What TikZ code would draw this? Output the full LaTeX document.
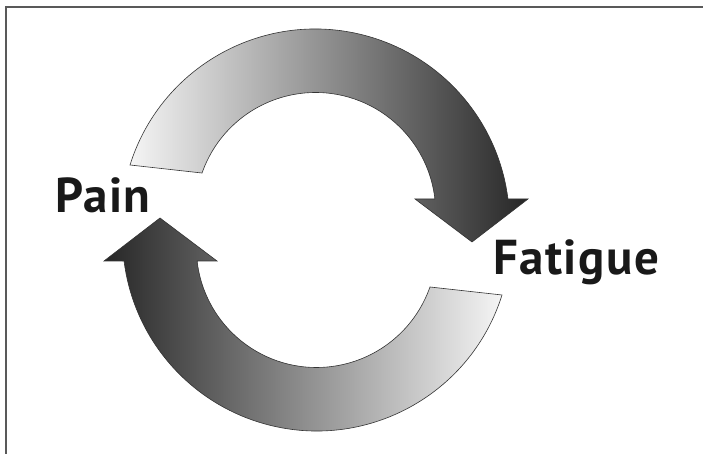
\documentclass[tikz,border=0pt]{standalone}
\usepackage{fontspec}
\setmainfont{PT Sans}

\begin{document}
\begin{tikzpicture}[x=1pt, y=1pt,
    loopband/.style={draw=black!80, line width=0.6pt},
    word/.style={anchor=base west, inner sep=0pt, text=black!90, font=\fontsize{49}{52}\selectfont\bfseries\addfontfeature{LetterSpace=3}}]

			\useasboundingbox (0,0) rectangle (703,454);
			\draw[black!65, line width=2pt] (6,0) -- (6,447) -- (703,447);

			\begin{scope}
				\draw[loopband, left color=black!4, right color=black!85] (130,289) arc[start angle=162.56, end angle=7.16, radius=194.2]
					-- (528,255) -- (472,212) -- (415,255) -- (434.9,255)
					arc[start angle=6.55, end angle=160.72, radius=120.2] -- cycle;
			\end{scope}

			\begin{scope}[rotate around={180:(316,224)}]
				\draw[loopband, left color=black!85, right color=black!4] (130,289) arc[start angle=162.56, end angle=7.16, radius=194.2]
					-- (528,255) -- (472,212) -- (415,255) -- (434.9,255)
					arc[start angle=6.55, end angle=160.72, radius=120.2] -- cycle;
			\end{scope}

			\node[word] (pain) at (55,241) {Pain};
			\node[word] (fatigue) at (493,179) {Fatigue};
		\end{tikzpicture}
\end{document}
